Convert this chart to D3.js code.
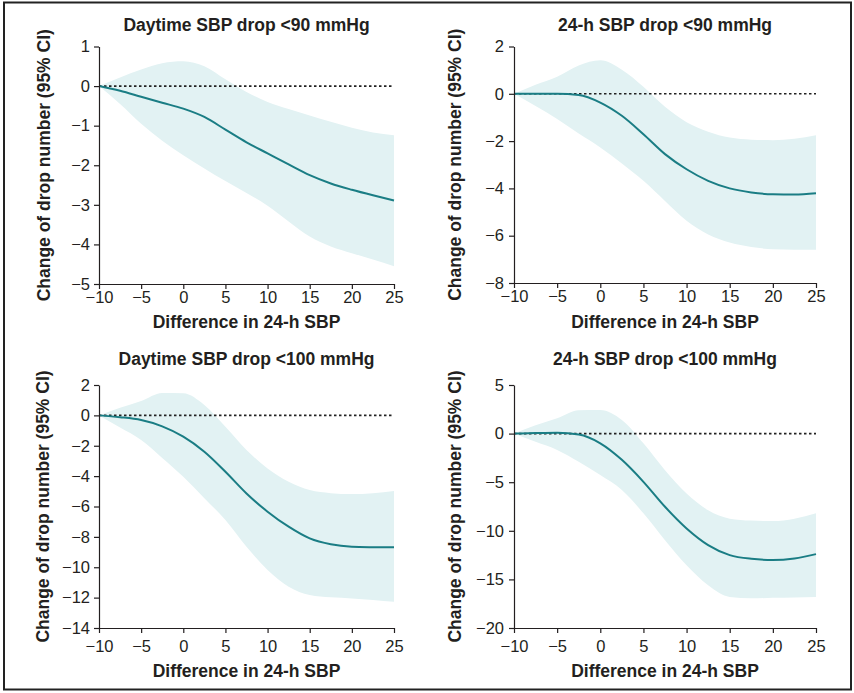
<!DOCTYPE html>
<html><head><meta charset="utf-8">
<script src="https://cdn.jsdelivr.net/npm/d3@7"></script>
<style>
body{margin:0;background:#fff;}
svg{display:block;font-family:"Liberation Sans",Arial,sans-serif;}
</style></head>
<body><svg id="c" width="854" height="693"></svg>
<script>
// ---- data ----
const xValues = [-10,-7.5,-5,-2.5,0,2.5,5,7.5,10,12.5,15,17.5,20,22.5,25];
const xTicks = [-10,-5,0,5,10,15,20,25];
const titles = ["Daytime SBP drop <90 mmHg","24-h SBP drop <90 mmHg","Daytime SBP drop <100 mmHg","24-h SBP drop <100 mmHg"];
const xLabel = "Difference in 24-h SBP";
const yLabel = "Change of drop number (95% CI)";

const day90Est   = [0,-0.12,-0.27,-0.42,-0.57,-0.78,-1.10,-1.42,-1.70,-1.98,-2.25,-2.46,-2.62,-2.76,-2.89];
const day90Upper = [0,0.22,0.42,0.58,0.63,0.50,0.17,-0.15,-0.40,-0.58,-0.74,-0.90,-1.05,-1.17,-1.24];
const day90Lower = [0,-0.45,-0.95,-1.38,-1.75,-2.08,-2.40,-2.70,-3.02,-3.42,-3.80,-4.05,-4.22,-4.38,-4.55];
const day90Ticks = [1,0,-1,-2,-3,-4,-5];

const h24_90Est   = [0,0,0,-0.05,-0.37,-0.93,-1.71,-2.55,-3.19,-3.68,-4.0,-4.17,-4.25,-4.26,-4.2];
const h24_90Upper = [0,0.38,0.72,1.2,1.42,1.02,0.3,-0.55,-1.2,-1.6,-1.85,-1.94,-1.96,-1.9,-1.75];
const h24_90Lower = [0,-0.52,-1.07,-1.68,-2.27,-2.95,-3.68,-4.53,-5.37,-5.95,-6.29,-6.48,-6.57,-6.59,-6.59];
const h24_90Ticks = [2,0,-2,-4,-6,-8];

const day100Est   = [0,-0.12,-0.31,-0.72,-1.40,-2.39,-3.71,-5.14,-6.34,-7.33,-8.1,-8.49,-8.65,-8.68,-8.69];
const day100Upper = [0,0.5,0.95,1.48,1.45,0.68,-0.75,-2.28,-3.49,-4.37,-4.92,-5.12,-5.18,-5.12,-4.98];
const day100Lower = [0,-0.8,-1.62,-2.8,-4.04,-5.45,-6.89,-8.65,-10.18,-11.28,-11.83,-11.98,-12.05,-12.15,-12.27];
const day100Ticks = [2,0,-2,-4,-6,-8,-10,-12,-14];

const h24_100Est   = [0,0.05,0.08,-0.1,-1.0,-2.7,-4.96,-7.53,-9.76,-11.47,-12.5,-12.88,-13.0,-12.84,-12.4];
const h24_100Upper = [0,0.85,1.57,2.4,2.43,1.4,-1.0,-3.77,-6.17,-7.89,-8.75,-8.95,-9.0,-8.75,-8.2];
const h24_100Lower = [0,-0.85,-1.68,-2.9,-4.26,-5.8,-8.2,-10.97,-13.55,-15.6,-16.8,-16.95,-16.9,-16.85,-16.8];
const h24_100Ticks = [5,0,-5,-10,-15,-20];

// ---- layout ----
const panels = [
  {title:titles[0], est:day90Est, up:day90Upper, lo:day90Lower, ticks:day90Ticks,
   x0:99, x1:394, y0:46.5, y1:284, titleY:31, tickPad:2, xLabY:328, yLabX:43.5, yPad:4},
  {title:titles[1], est:h24_90Est, up:h24_90Upper, lo:h24_90Lower, ticks:h24_90Ticks,
   x0:514, x1:816, y0:46.5, y1:283, titleY:31, tickPad:2, xLabY:328, yLabX:455, yPad:5},
  {title:titles[2], est:day100Est, up:day100Upper, lo:day100Lower, ticks:day100Ticks,
   x0:99, x1:394, y0:385, y1:628, titleY:365, tickPad:7, xLabY:677, yLabX:43, yPad:4},
  {title:titles[3], est:h24_100Est, up:h24_100Upper, lo:h24_100Lower, ticks:h24_100Ticks,
   x0:514, x1:816, y0:385, y1:628, titleY:365, tickPad:7, xLabY:677, yLabX:455, yPad:5}
];

const svg = d3.select("#c");
const ink = "#231f20";
const fmt = d3.format("d");

svg.append("rect").attr("x",4).attr("y",2.5).attr("width",847).attr("height",687)
  .attr("fill","none").attr("stroke","#222").attr("stroke-width",2);

panels.forEach(p => {
  const x = d3.scaleLinear().domain([-10,25]).range([p.x0,p.x1]);
  const ext = d3.extent(p.ticks);
  const y = d3.scaleLinear().domain(ext).range([p.y1,p.y0]);
  const g = svg.append("g");
  const rows = xValues.map((xv,i)=>({x:xv, e:p.est[i], u:p.up[i], l:p.lo[i]}));

  g.append("path").datum(rows)
    .attr("fill","#e2f2f3")
    .attr("d", d3.area().curve(d3.curveMonotoneX).x(d=>x(d.x)).y0(d=>y(d.l)).y1(d=>y(d.u)));

  g.append("line").attr("x1",x(-10)).attr("x2",x(25)).attr("y1",y(0)).attr("y2",y(0))
    .attr("stroke","#222").attr("stroke-width",1.6).attr("stroke-dasharray","2.5,2.5");

  g.append("path").datum(rows)
    .attr("fill","none").attr("stroke","#1a7d84").attr("stroke-width",2)
    .attr("d", d3.line().curve(d3.curveMonotoneX).x(d=>x(d.x)).y(d=>y(d.e)));

  const xa = g.append("g").attr("transform",`translate(0,${p.y1})`)
    .call(d3.axisBottom(x).tickValues(xTicks).tickFormat(fmt).tickSize(5).tickSizeOuter(0).tickPadding(p.tickPad));
  const ya = g.append("g").attr("transform",`translate(${p.x0},0)`)
    .call(d3.axisLeft(y).tickValues(p.ticks).tickFormat(fmt).tickSize(5).tickSizeOuter(0).tickPadding(p.yPad));
  [xa,ya].forEach(a=>{
    a.selectAll("path,line").attr("stroke",ink).attr("stroke-width",1.2);
    a.selectAll("text").attr("fill",ink).style("font-size","16.5px")
      .style("font-family","'Liberation Sans',Arial,sans-serif");
  });

  g.append("text").attr("x",(p.x0+p.x1)/2).attr("y",p.titleY).attr("text-anchor","middle")
    .attr("fill",ink).style("font-size","17.5px").style("font-weight","bold").text(p.title);
  g.append("text").attr("x",(p.x0+p.x1)/2).attr("y",p.xLabY).attr("text-anchor","middle")
    .attr("fill",ink).style("font-size","17.5px").style("font-weight","bold").text(xLabel);
  g.append("text").attr("transform",`translate(${p.yLabX},${(p.y0+p.y1)/2}) rotate(-90)`)
    .attr("dy","0.36em").attr("text-anchor","middle")
    .attr("fill",ink).style("font-size","17.5px").style("font-weight","bold").text(yLabel);
});
</script></body></html>
